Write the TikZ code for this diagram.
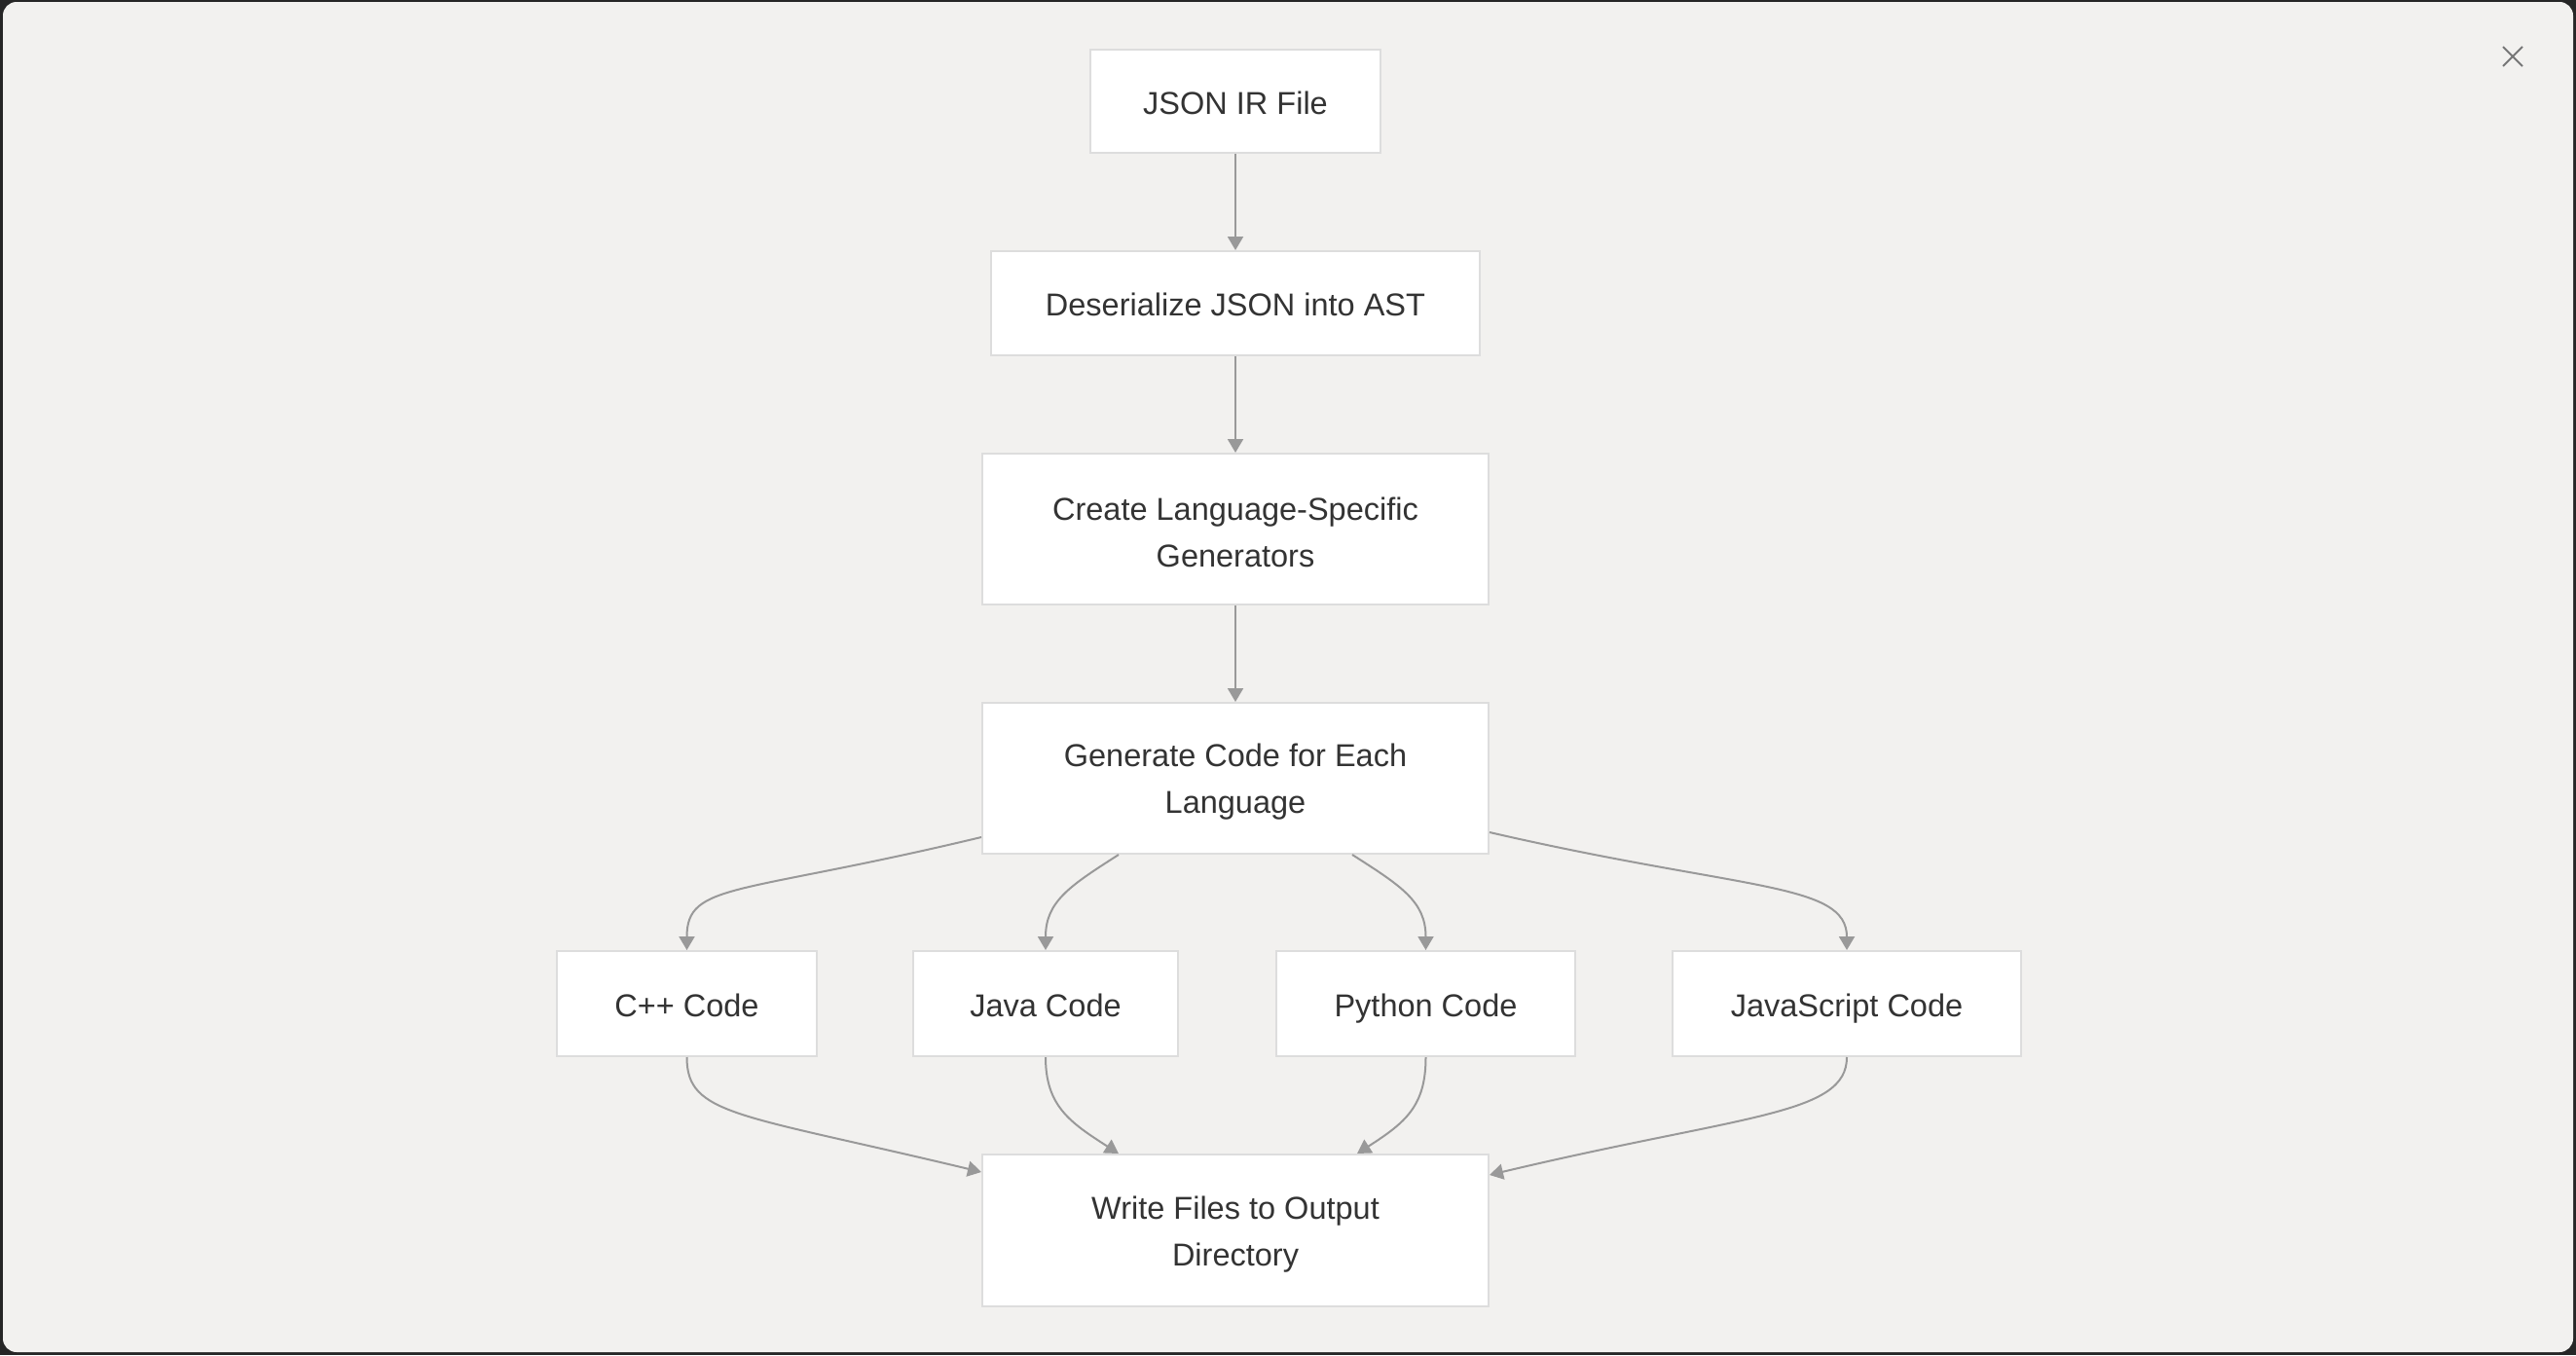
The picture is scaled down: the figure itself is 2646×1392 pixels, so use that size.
\documentclass[tikz,border=0pt]{standalone}
\usepackage{fontspec}
\setmainfont{Liberation Sans}
\usetikzlibrary{arrows.meta,calc}
\definecolor{bgc}{HTML}{F2F1EF}
\definecolor{framec}{HTML}{262626}
\definecolor{nodeb}{HTML}{DDDDDD}
\definecolor{edgec}{HTML}{999999}
\definecolor{txtc}{HTML}{333333}
\definecolor{closec}{HTML}{777777}
\newcommand{\firststrut}{\rule{0pt}{31pt}}
\tikzset{
  box/.style={draw=nodeb, line width=2pt, fill=white, text=txtc, align=center, inner sep=0pt,
    font=\fontsize{32.5}{48}\selectfont},
  onebox/.style={box, text height=27pt, text depth=1pt},
  edge/.style={draw=edgec, line width=2pt, -{Triangle[length=14pt,width=16pt]}}
}
\begin{document}
\begin{tikzpicture}[x=1pt,y=-1pt]
\fill[framec] (0,0) rectangle (2646,1392);
\fill[bgc, rounded corners=14pt] (3,2) rectangle (2643,1389);
\useasboundingbox (0,0) rectangle (2646,1392);
% close icon
\draw[closec, line width=2pt] (2571,48) -- (2591,68) (2591,48) -- (2571,68);
% nodes
\node[onebox, minimum width=298pt, minimum height=106pt] (ir) at (1269,104) {JSON IR File};
\node[onebox, minimum width=502pt, minimum height=107pt] (des) at (1269,311.5) {Deserialize JSON into AST};
\node[box, minimum width=520pt, minimum height=155pt] (cre) at (1269,543.5) {\firststrut Create Language-Specific\\Generators};
\node[box, minimum width=520pt, minimum height=155pt] (gen) at (1269,799.5) {\firststrut Generate Code for Each\\Language};
\node[onebox, minimum width=267pt, minimum height=108pt] (cpp) at (705.5,1031) {C++ Code};
\node[onebox, minimum width=272pt, minimum height=108pt] (java) at (1074,1031) {Java Code};
\node[onebox, minimum width=307pt, minimum height=108pt] (py) at (1464.5,1031) {Python Code};
\node[onebox, minimum width=358pt, minimum height=108pt] (js) at (1897,1031) {JavaScript Code};
\node[box, minimum width=520pt, minimum height=156pt] (wr) at (1269,1264) {\firststrut Write Files to Output\\Directory};
% edges
\draw[edge] (ir) -- (des);
\draw[edge] (des) -- (cre);
\draw[edge] (cre) -- (gen);
\draw[edge] ([yshift=18pt]gen.south west) .. controls +(-250,60) and +(0,-70) .. (cpp.north);
\draw[edge] ([xshift=-120pt]gen.south) .. controls +(-50,32) and +(0,-50) .. (java.north);
\draw[edge] ([xshift=120pt]gen.south) .. controls +(50,32) and +(0,-50) .. (py.north);
\draw[edge] ([yshift=23pt]gen.south east) .. controls +(260,60) and +(0,-70) .. (js.north);
\draw[edge] (cpp.south) .. controls +(0,60) and +(-250,-60) .. ([yshift=-19pt]wr.north west);
\draw[edge] (java.south) .. controls +(0,50) and +(-50,-32) .. ([xshift=-120pt]wr.north);
\draw[edge] (py.south) .. controls +(0,50) and +(50,-32) .. ([xshift=125pt]wr.north);
\draw[edge] (js.south) .. controls +(0,60) and +(260,-62) .. ([yshift=-22pt]wr.north east);
\end{tikzpicture}
\end{document}
